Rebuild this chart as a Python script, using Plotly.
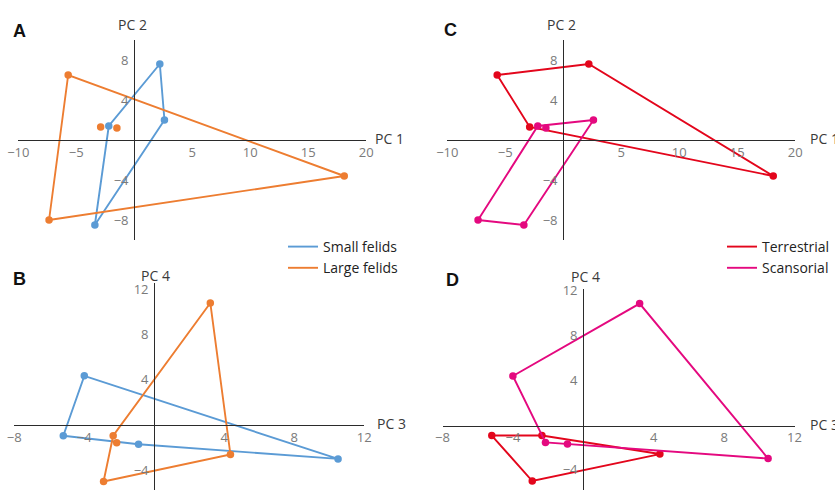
import plotly.graph_objects as go

W, H = 835, 490

# ---------------- data ----------------
pc1 = [2.2, 2.6, -3.4, -2.2, -5.7, 18.1, -2.9, -7.35, -1.5]
pc2 = [7.6, 2.0, -8.5, 1.4, 6.5, -3.6, 1.3, -8.0, 1.2]
pc3 = [-5.2, 10.5, -0.9, -4.0, -2.35, 4.35, -2.9, 3.2, -2.15]
pc4 = [-0.95, -3.0, -1.7, 4.35, -0.95, -2.6, -5.0, 10.8, -1.56]
body_size = ["Small felids", "Small felids", "Small felids", "Small felids",
             "Large felids", "Large felids", "Large felids", "Large felids", "Large felids"]
locomotion = ["Terrestrial", "Scansorial", "Scansorial", "Scansorial",
              "Terrestrial", "Terrestrial", "Terrestrial", "Scansorial", "Scansorial"]

size_groups = ["Small felids", "Large felids"]
loco_groups = ["Terrestrial", "Scansorial"]

ticks_pc12_x = [-10, -5, 5, 10, 15, 20]
ticks_pc12_y = [-8, -4, 4, 8]
ticks_pc34_x = [-8, -4, 4, 8, 12]
ticks_pc34_y = [-4, 4, 8, 12]

# ---------------- styles ----------------
colors = {"Small felids": "#5b9bd5", "Large felids": "#ed7d31",
          "Terrestrial": "#e3061c", "Scansorial": "#e4097f"}
FONT = "Open Sans"
AXIS_COLOR = "#2b2b2b"
TICK_COLOR = "#7a7a7a"

# panel geometry: origin px (ox, oy), px per unit (sx, sy), x range, y range
panels = {
    "A": dict(n="", ox=134.3, oy=140.0, sx=11.6, sy=10.0, xr=[-10, 20], yr=[-10, 10],
              xv=pc1, yv=pc2, groups=size_groups, key=body_size, xt=ticks_pc12_x, yt=ticks_pc12_y,
              xl="PC 1", yl="PC 2", legend="legend"),
    "B": dict(n="2", ox=154.3, oy=425.0, sx=17.5, sy=11.3, xr=[-8, 12], yr=[-5.75, 12.55],
              xv=pc3, yv=pc4, groups=size_groups, key=body_size, xt=ticks_pc34_x, yt=ticks_pc34_y,
              xl="PC 3", yl="PC 4", legend=None),
    "C": dict(n="3", ox=563.3, oy=140.0, sx=11.6, sy=10.0, xr=[-10, 20], yr=[-10, 10],
              xv=pc1, yv=pc2, groups=loco_groups, key=locomotion, xt=ticks_pc12_x, yt=ticks_pc12_y,
              xl="PC 1", yl="PC 2", legend="legend2"),
    "D": dict(n="4", ox=583.3, oy=425.7, sx=17.6, sy=11.3, xr=[-8, 12], yr=[-5.8, 12.1],
              xv=pc3, yv=pc4, groups=loco_groups, key=locomotion, xt=ticks_pc34_x, yt=ticks_pc34_y,
              xl="PC 3", yl="PC 4", legend=None),
}

# label positions in pixels
letter_pos = {"A": (19.5, 31), "B": (19.5, 278.5), "C": (450, 30), "D": (452, 280)}
xlabel_pos = {"A": (373, 138), "B": (375, 423), "C": (808, 138), "D": (808, 424)}
ylabel_pos = {"A": (132.5, 24), "B": (155.5, 275), "C": (561.7, 24), "D": (585, 276)}


def convex_hull(pts):
    pts = sorted(set(pts))
    if len(pts) < 3:
        return pts

    def cross(o, a, b):
        return (a[0] - o[0]) * (b[1] - o[1]) - (a[1] - o[1]) * (b[0] - o[0])

    lower, upper = [], []
    for p in pts:
        while len(lower) >= 2 and cross(lower[-2], lower[-1], p) <= 0:
            lower.pop()
        lower.append(p)
    for p in reversed(pts):
        while len(upper) >= 2 and cross(upper[-2], upper[-1], p) <= 0:
            upper.pop()
        upper.append(p)
    return lower[:-1] + upper[:-1]


fig = go.Figure()
layout_axes = {}
annotations = []

for name, p in panels.items():
    n = p["n"]
    xa, ya = "x" + n, "y" + n
    ox, oy, sx, sy = p["ox"], p["oy"], p["sx"], p["sy"]
    xr, yr = p["xr"], p["yr"]
    x0px, x1px = ox + sx * xr[0], ox + sx * xr[1]
    ybot_px, ytop_px = oy - sy * yr[0], oy - sy * yr[1]
    xdom = [max(0, x0px / W), min(1, x1px / W)]
    ydom = [max(0, 1 - ybot_px / H), min(1, 1 - ytop_px / H)]

    common = dict(showgrid=False, zeroline=False, showline=True, linecolor=AXIS_COLOR,
                  linewidth=1.3, ticks="", tickmode="array", anchor="free", automargin=False,
                  tickfont=dict(family=FONT, size=13, color=TICK_COLOR), fixedrange=True)
    layout_axes["xaxis" + n] = dict(common, domain=xdom, range=xr, tickvals=p["xt"],
                                   position=1 - oy / H)
    layout_axes["yaxis" + n] = dict(common, domain=ydom, range=yr, tickvals=p["yt"],
                                   position=ox / W, ticklabelstandoff=3)

    for g in p["groups"]:
        gx = [x for x, k in zip(p["xv"], p["key"]) if k == g]
        gy = [y for y, k in zip(p["yv"], p["key"]) if k == g]
        hull = convex_hull(list(zip(gx, gy)))
        hull = hull + hull[:1]
        fig.add_trace(go.Scatter(
            x=[h[0] for h in hull], y=[h[1] for h in hull], mode="lines",
            line=dict(color=colors[g], width=1.9), name=g,
            showlegend=p["legend"] is not None, legend=p["legend"] or "legend",
            xaxis=xa, yaxis=ya, cliponaxis=False, hoverinfo="skip"))
        fig.add_trace(go.Scatter(
            x=gx, y=gy, mode="markers", marker=dict(color=colors[g], size=7.5),
            name=g, showlegend=False, xaxis=xa, yaxis=ya, cliponaxis=False))

    lx, ly = letter_pos[name]
    annotations.append(dict(text="<b>" + name + "</b>", x=lx / W, y=1 - ly / H,
                            xref="paper", yref="paper", showarrow=False,
                            xanchor="center", yanchor="middle",
                            font=dict(family="Liberation Sans", size=18, color="#111")))
    px_, py_ = xlabel_pos[name]
    annotations.append(dict(text=p["xl"], x=px_ / W, y=1 - py_ / H, xref="paper", yref="paper",
                            showarrow=False, xanchor="left", yanchor="middle",
                            font=dict(family=FONT, size=14, color="#3a3a3a")))
    px_, py_ = ylabel_pos[name]
    annotations.append(dict(text=p["yl"], x=px_ / W, y=1 - py_ / H, xref="paper", yref="paper",
                            showarrow=False, xanchor="center", yanchor="middle",
                            font=dict(family=FONT, size=14, color="#3a3a3a")))

legend_style = dict(xanchor="left", yanchor="top", bgcolor="rgba(0,0,0,0)",
                    font=dict(family=FONT, size=14, color="#222"), borderwidth=0,
                    tracegroupgap=0)

fig.update_layout(
    width=W, height=H, margin=dict(l=0, r=0, t=0, b=0, autoexpand=False),
    paper_bgcolor="white", plot_bgcolor="rgba(0,0,0,0)",
    font=dict(family=FONT),
    annotations=annotations,
    legend=dict(legend_style, x=283 / W, y=1 - 231 / H),
    legend2=dict(legend_style, x=722 / W, y=1 - 231 / H),
    **layout_axes,
)

fig.write_html("out.html", config={"displayModeBar": False},
               post_script="document.body.style.margin='0';document.body.style.overflow='hidden';")
